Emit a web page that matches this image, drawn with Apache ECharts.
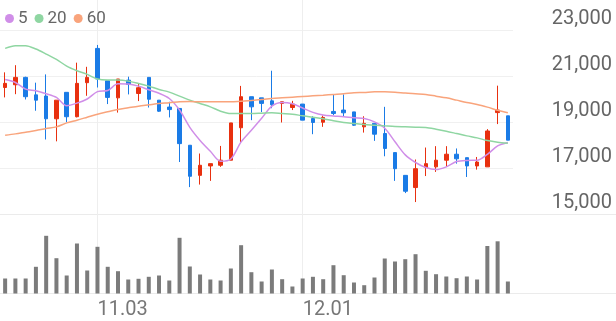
<!DOCTYPE html>
<html>
<head>
<meta charset="utf-8">
<script src="https://cdn.jsdelivr.net/npm/echarts@6/dist/echarts.min.js"></script>
<style>
html,body{margin:0;padding:0;background:#fff;}
#c{width:616px;height:321px;}
</style>
</head>
<body>
<div id="c"></div>
<script>
// ---- data ----
const dates = ['10.21','10.22','10.23','10.24','10.27','10.28','10.29','10.30','10.31',
  '11.03','11.04','11.05','11.06','11.07','11.10','11.11','11.12','11.13','11.14',
  '11.17','11.18','11.19','11.20','11.21','11.24','11.25','11.26','11.27','11.28',
  '12.01','12.02','12.03','12.04','12.05','12.08','12.09','12.10','12.11','12.12',
  '12.15','12.16','12.17','12.18','12.19','12.22','12.23','12.24','12.26','12.29','12.30'];
const tickLabels = ['11.03','12.01'];
const open  = [20530,20650,20970,20210,20160,19170,20320,19260,20740,22230,20820,20080,20850,20270,20970,19980,19680,19620,18020,16710,17120,17150,17370,18780,20130,20080,19950,19840,19660,19810,19180,19020,19490,19550,19470,18820,18970,18530,17700,16710,16180,17050,17080,17370,17630,17480,17120,17080,19440,19300];
const close = [20710,20970,20130,19980,19170,19980,19260,20710,20970,20900,20100,20900,20660,20520,20020,19500,19570,18090,16670,17150,17220,17370,18990,20130,19690,19840,19780,19910,19810,19110,19010,19230,19400,19430,18890,18970,18500,17880,17000,16020,17000,17220,17370,17630,17430,17120,17290,18640,19550,18240];
const low   = [20100,20240,20010,19520,18270,18190,19020,19230,20170,20530,19810,19440,20230,19940,19660,19470,19230,17290,16200,16310,16470,17080,17370,18140,19110,19460,19630,19010,19550,19110,18500,18820,19330,19280,18860,18570,18210,17540,16470,15940,15550,16680,16860,17080,17220,16640,16960,17080,18940,18240];
const high  = [21190,21500,21000,20740,21100,19980,20320,21610,21430,22380,20820,20900,21000,20680,20970,19980,19910,19620,18020,17660,17220,17990,18990,20600,20130,20080,21260,19910,19950,19810,19280,19310,20230,20230,19470,19280,18970,19690,17700,16710,17400,17920,17980,17980,17880,17480,17510,18720,20610,19300];
const ma5  = [20881,20750,20460,20387,20260,20100,19740,19850,20030,20350,20400,20690,20680,20590,20430,20280,20053,19550,18800,18230,17760,17320,17420,18165,18675,19190,19720,19875,19820,19640,19450,19330,19290,19260,19210,19182,19037,18760,18170,17600,17270,17050,16960,17080,17310,17360,17366,17625,17990,18140];
const ma20 = [22232,22348,22348,22203,21985,21752,21462,21259,21099,20896,20852,20852,20808,20707,20591,20445,20329,20155,19981,19835,19690,19501,19400,19400,19400,19414,19429,19400,19371,19300,19240,19167,19080,19008,18964,18921,18892,18862,18833,18819,18804,18790,18717,18630,18529,18427,18340,18223,18151,18110];
const ma60 = [18456,18514,18587,18659,18746,18819,18993,19109,19240,19371,19472,19574,19647,19719,19777,19835,19864,19908,19923,19908,19908,19908,19908,19937,19966,20010,20053,20082,20111,20140,20169,20198,20228,20257,20300,20315,20344,20344,20329,20286,20257,20228,20155,20082,19981,19879,19792,19676,19545,19429];
const volume = [150,150,150,267,577,353,180,500,230,467,267,223,140,147,167,180,130,557,270,190,140,130,250,483,213,120,240,143,70,150,167,143,283,183,110,83,160,350,320,343,393,227,193,170,153,170,140,475,522,120];
const priceTicks = [15000,17000,19000,21000,23000];

// ---- chart ----
const UP = '#e8300f', DOWN = '#1a7be6';
const C5 = '#d08ee8', C20 = '#8fd6a2', C60 = '#f9a47c';
const candles = dates.map((d, i) => [open[i], close[i], low[i], high[i]]);
const FONT = 'Roboto';
const chart = echarts.init(document.getElementById('c'), null, {renderer: 'canvas'});
const fmt = v => v.toLocaleString('en-US');
chart.setOption({
  animation: false,
  backgroundColor: '#fff',
  textStyle: {fontFamily: FONT},
  legend: {
    data: ['5', '20', '60'],
    left: 0, top: 5,
    icon: 'circle', itemWidth: 9, itemHeight: 9, itemGap: 7,
    textStyle: {fontSize: 17, color: '#666', fontFamily: FONT, padding: [0, 0, 0, -1]}
  },
  grid: [
    {left: 0, right: 103, top: 30.7, height: 184},          // price
    {left: 0, right: 103, top: 223.5, bottom: 27.5},         // volume
    {left: 5.13, right: 108.13, top: 0, bottom: 27},         // date overlay
    {left: 0, right: 0, top: 214.7, bottom: 27.5}            // separators
  ],
  xAxis: [
    {type: 'category', gridIndex: 0, data: dates, boundaryGap: true, show: false},
    {type: 'category', gridIndex: 1, data: dates, boundaryGap: true, show: false},
    {type: 'category', gridIndex: 2, data: dates, boundaryGap: false,
      axisLine: {show: false}, axisTick: {show: false},
      splitLine: {show: true, interval: (i, v) => tickLabels.includes(v), lineStyle: {color: '#eeeeee', width: 1}},
      axisLabel: {show: true, interval: (i, v) => tickLabels.includes(v), align: 'left', margin: 6,
        fontSize: 20, color: '#777', fontFamily: FONT}},
    {type: 'value', gridIndex: 3, show: false, min: 0, max: 1}
  ],
  yAxis: [
    {type: 'value', gridIndex: 0, position: 'right', min: priceTicks[0], max: priceTicks[priceTicks.length - 1], interval: 2000,
      axisLine: {show: false}, axisTick: {show: false},
      splitLine: {lineStyle: {color: '#f0f0f0'}},
      axisLabel: {formatter: fmt, align: 'right', margin: 99, verticalAlign: 'bottom', padding: [0, 0, 2, 0],
        fontSize: 20, color: '#666', fontFamily: FONT}},
    {type: 'value', gridIndex: 1, min: 0, max: 700, show: false},
    {type: 'value', gridIndex: 2, min: 0, max: 1, show: false},
    {type: 'value', gridIndex: 3, min: 0, max: 1, interval: 1,
      axisLine: {show: false}, axisTick: {show: false}, axisLabel: {show: false},
      splitLine: {show: true, lineStyle: {color: '#ebebeb'}}}
  ],
  series: [
    {type: 'candlestick', name: 'price', xAxisIndex: 0, yAxisIndex: 0, data: candles, barWidth: 4,
      itemStyle: {color: UP, color0: DOWN, borderColor: UP, borderColor0: DOWN, borderWidth: 1}, z: 3},
    {type: 'line', name: '5', xAxisIndex: 0, yAxisIndex: 0, data: ma5, showSymbol: false, smooth: 0.3,
      lineStyle: {color: C5, width: 1.5}, itemStyle: {color: C5}, z: 4},
    {type: 'line', name: '20', xAxisIndex: 0, yAxisIndex: 0, data: ma20, showSymbol: false, smooth: 0.3,
      lineStyle: {color: C20, width: 1.5}, itemStyle: {color: C20}, z: 4},
    {type: 'line', name: '60', xAxisIndex: 0, yAxisIndex: 0, data: ma60, showSymbol: false, smooth: 0.3,
      lineStyle: {color: C60, width: 1.5}, itemStyle: {color: C60}, z: 4},
    {type: 'bar', name: 'volume', xAxisIndex: 1, yAxisIndex: 1, data: volume, barWidth: 4,
      itemStyle: {color: '#7b7b7b'}, z: 3}
  ]
});
</script>
</body>
</html>
